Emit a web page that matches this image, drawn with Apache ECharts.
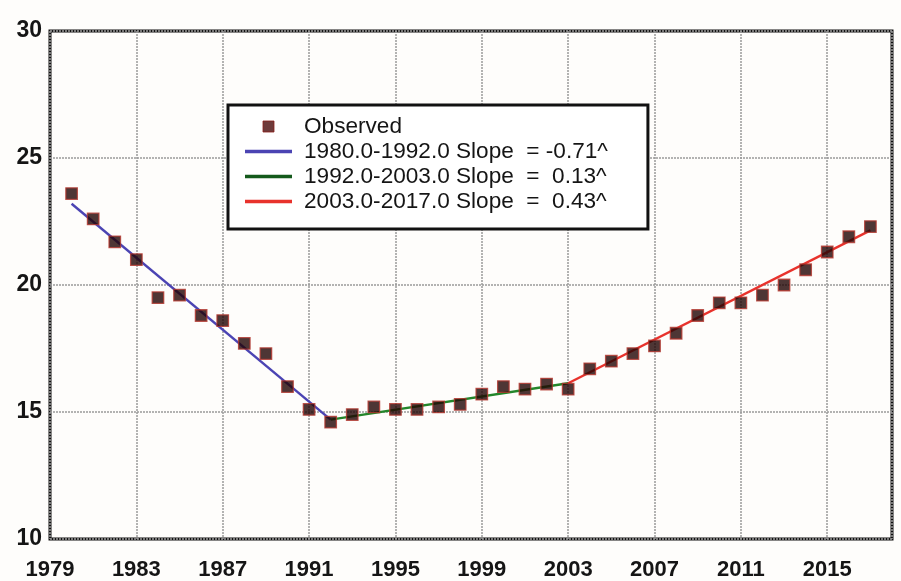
<!DOCTYPE html>
<html>
<head>
<meta charset="utf-8">
<title>Segmented trend</title>
<script src="https://cdn.jsdelivr.net/npm/echarts@6/dist/echarts.min.js"></script>
<style>
  html, body { margin: 0; padding: 0; background: #fefdfb; }
  #chart { width: 901px; height: 581px; }
</style>
</head>
<body>
<div id="chart"></div>
<script>
// Observed annual values
const years = [1980, 1981, 1982, 1983, 1984, 1985, 1986, 1987, 1988, 1989,
               1990, 1991, 1992, 1993, 1994, 1995, 1996, 1997, 1998, 1999,
               2000, 2001, 2002, 2003, 2004, 2005, 2006, 2007, 2008, 2009,
               2010, 2011, 2012, 2013, 2014, 2015, 2016, 2017];
const observed = [23.6, 22.6, 21.7, 21.0, 19.5, 19.6, 18.8, 18.6, 17.7, 17.3,
                  16.0, 15.1, 14.6, 14.9, 15.2, 15.1, 15.1, 15.2, 15.3, 15.7,
                  16.0, 15.9, 16.1, 15.9, 16.7, 17.0, 17.3, 17.6, 18.1, 18.8,
                  19.3, 19.3, 19.6, 20.0, 20.6, 21.3, 21.9, 22.3];

// Fitted joinpoint segments: start/end year and fitted value at each end
const segmentNames = ['1980.0-1992.0 Slope  = -0.71^',
                      '1992.0-2003.0 Slope  =  0.13^',
                      '2003.0-2017.0 Slope  =  0.43^'];
const segmentYears = [[1980, 1992], [1992, 2003], [2003, 2017]];
const segmentValues = [[23.2, 14.7], [14.7, 16.13], [16.13, 22.15]];
const segmentColors = ['#4b44b3', '#23862a', '#e8322c'];
const legendLineColors = ['#4b44b3', '#145a1c', '#e8322c'];

// Axis range and tick labels
const yearStart = 1979;
const yearEnd = 2018;
const yearStep = 4;
const yTicks = [10, 15, 20, 25, 30];

const chart = echarts.init(document.getElementById('chart'), null, { renderer: 'canvas' });

// x is measured as years since yearStart so ticks fall on 1979, 1983, ...
const toX = y => y - yearStart;

const series = [{
  name: 'Observed',
  type: 'scatter',
  symbol: 'rect',
  symbolSize: 11.5,
  itemStyle: { color: '#220404', borderColor: '#b3362d', borderWidth: 1.3 },
  data: years.map((y, i) => [toX(y), observed[i]]),
  z: 5
}];
segmentNames.forEach((name, i) => {
  series.push({
    name: name,
    type: 'line',
    symbol: 'none',
    lineStyle: { color: segmentColors[i], width: 2.4 },
    itemStyle: { color: segmentColors[i] },
    data: segmentYears[i].map((y, k) => [toX(y), segmentValues[i][k]]),
    z: 4
  });
});

const labelFont = { color: '#151515', fontWeight: 'bold', fontFamily: 'Liberation Sans, Arial, sans-serif' };

// Legend entries: a small square for the observations, a short bar for each fit
const legendData = [{
  name: 'Observed',
  icon: 'path://M0,0L1,0L1,1L0,1Z',
  itemStyle: { color: '#4a0a0a', borderColor: '#8a1f1a', borderWidth: 1 }
}].concat(segmentNames.map((name, i) => ({
  name: name,
  icon: 'path://M0,0L40,0L40,3L0,3Z',
  itemStyle: { color: legendLineColors[i], borderWidth: 0 }
})));

chart.setOption({
  backgroundColor: '#fefdfb',
  animation: false,
  grid: {
    left: 50, top: 31, right: 9, bottom: 42,
    show: true, borderColor: '#111', borderWidth: 3, backgroundColor: 'transparent'
  },
  legend: {
    left: 228, top: 105,
    orient: 'vertical',
    backgroundColor: '#ffffff',
    borderColor: '#111',
    borderWidth: 3,
    padding: [10, 40, 16, 17],
    itemWidth: 47,
    itemHeight: 11,
    itemGap: 2,
    textStyle: { fontSize: 22.6, color: '#151515', fontFamily: 'Liberation Sans, Arial, sans-serif',
      lineHeight: 22, padding: [0, 0, 0, 7] },
    data: legendData
  },
  xAxis: {
    type: 'value',
    min: toX(yearStart), max: toX(yearEnd), interval: yearStep,
    axisLine: { show: false },
    axisTick: { show: false },
    axisLabel: Object.assign({ fontSize: 22, margin: 20, formatter: v => String(v + yearStart),
      showMaxLabel: false }, labelFont),
    splitLine: { show: true, lineStyle: { color: '#9a9a9a', type: [2, 1], width: 1.5 } }
  },
  yAxis: {
    type: 'value',
    min: yTicks[0], max: yTicks[yTicks.length - 1], interval: yTicks[1] - yTicks[0],
    axisLine: { show: false },
    axisTick: { show: false },
    axisLabel: Object.assign({ fontSize: 23, margin: 8 }, labelFont),
    splitLine: { show: true, lineStyle: { color: '#9a9a9a', type: [2, 1], width: 1.5 } }
  },
  series: series
});
</script>
</body>
</html>
